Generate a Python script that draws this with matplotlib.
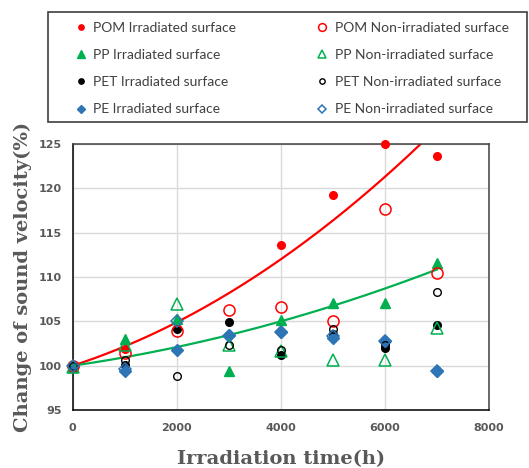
import numpy as np
import matplotlib.pyplot as plt
from matplotlib.patches import Rectangle

# irradiation time (h)
hours = [0, 1000, 2000, 3000, 4000, 5000, 6000, 7000]

# change of sound velocity (%) - irradiated surface
pom_irr = [100.0, 101.9, 104.2, np.nan, 113.6, 119.2, 125.0, 123.6]
pp_irr = [99.8, 103.0, 105.3, 99.4, 105.1, 107.1, 107.1, 111.6]
pet_irr = [100.0, 100.1, 104.1, 104.9, 101.2, 103.6, 102.0, 104.6]
pe_irr = [100.0, 99.4, 101.8, 103.5, 103.8, 103.1, 102.8, 99.4]

# non-irradiated surface
pom_non = [100.0, 101.4, 103.9, 106.3, 106.6, 105.0, 117.7, 110.5]
pp_non = [99.8, 102.3, 107.0, 102.3, 101.6, 100.6, 100.6, 104.2]
pet_non = [100.0, 100.6, 98.8, 102.3, 101.8, 104.1, 102.3, 108.3]
pe_non = [100.0, 99.6, 105.0, 103.3, 103.8, 103.3, 102.8, 99.4]

# trendlines (2nd order polynomial, x in 1000 h)
pom_trend = [0.275, 1.9, 100.0]
pp_trend = [0.1, 0.85, 100.0]

RED = '#FF0000'
GREEN = '#00B050'
BLUE = '#2E75B6'
GREY = '#595959'

fig = plt.figure(figsize=(5.29, 4.68), dpi=100)
ax = fig.add_axes([0.1374, 0.1239, 0.787, 0.5684])

t = np.linspace(0, 7000, 200)
ax.plot(t, np.polyval(pom_trend, t / 1000), color=RED, lw=1.6, zorder=2)
ax.plot(t, np.polyval(pp_trend, t / 1000), color=GREEN, lw=1.6, zorder=2)

h = []
kw = dict(ls='none', clip_on=False, zorder=3)
h.append(ax.plot(hours, pom_irr, 'o', color=RED, ms=5.5, label='POM Irradiated surface', **kw)[0])
h.append(ax.plot(hours, pp_irr, '^', color=GREEN, ms=7.5, label='PP Irradiated surface', **kw)[0])
h.append(ax.plot(hours, pet_irr, 'o', color='black', ms=5.5, label='PET Irradiated surface', **kw)[0])
h.append(ax.plot(hours, pe_irr, 'D', color=BLUE, ms=6, label='PE Irradiated surface', **kw)[0])
h.append(ax.plot(hours, pom_non, 'o', mfc='none', mec=RED, mew=1.1, ms=8, label='POM Non-irradiated surface', **kw)[0])
h.append(ax.plot(hours, pp_non, '^', mfc='none', mec=GREEN, mew=1.1, ms=9, label='PP Non-irradiated surface', **kw)[0])
h.append(ax.plot(hours, pet_non, 'o', mfc='none', mec='black', mew=1.0, ms=5.5, label='PET Non-irradiated surface', **kw)[0])
h.append(ax.plot(hours, pe_non, 'D', mfc='none', mec=BLUE, mew=1.1, ms=6, label='PE Non-irradiated surface', **kw)[0])

ax.set_xlim(0, 8000)
ax.set_ylim(95, 125)
ax.set_xticks(np.arange(0, 8001, 2000))
ax.set_yticks(np.arange(95, 126, 5))
ax.grid(True, color='#d9d9d9', lw=1)
ax.set_axisbelow(True)
ax.tick_params(length=0, labelsize=8, labelcolor=GREY)
ax.tick_params(axis='y', pad=8)
ax.tick_params(axis='x', pad=9)
for lab in ax.get_xticklabels() + ax.get_yticklabels():
    lab.set_fontweight('bold')
for s in ax.spines.values():
    s.set_color('#404040')
    s.set_linewidth(1.1)
ax.spines['left'].set_color('black')
ax.spines['bottom'].set_color('black')

ax.set_ylabel('Change of sound velocity(%)', family='DejaVu Serif', fontweight='bold',
              fontsize=14, color=GREY, labelpad=5)
ax.set_xlabel('Irradiation time(h)', family='DejaVu Serif', fontweight='bold',
              fontsize=14, color=GREY, labelpad=13)

fig.add_artist(Rectangle((48 / 529, 1 - 122 / 468), 479 / 529, 110 / 468,
                         transform=fig.transFigure, fill=False, ec='#404040', lw=1.2))
fig.legend(handles=h, ncol=2, loc='upper left', bbox_to_anchor=(68 / 529, 1 - 16 / 468),
           frameon=False, prop={'family': 'Lato', 'size': 10}, labelcolor='#404040',
           markerscale=0.7, handlelength=1.0, handletextpad=0.4, labelspacing=1.1,
           columnspacing=5.7, borderaxespad=0)

fig.savefig('out.png', dpi=100)
